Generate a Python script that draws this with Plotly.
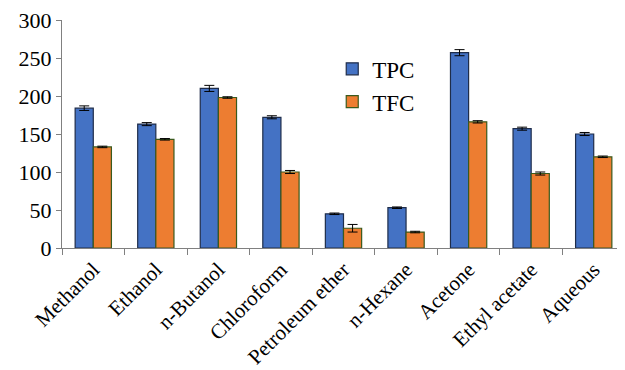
import plotly.graph_objects as go

categories = ["Methanol", "Ethanol", "n-Butanol", "Chloroform", "Petroleum ether",
              "n-Hexane", "Acetone", "Ethyl acetate", "Aqueous"]
tpc = [184, 163, 210, 172, 45, 53, 257, 157, 150]
tpc_err = [3, 2, 4, 2, 1, 1, 4, 2, 2]
tfc = [133, 143, 198, 100, 26, 21, 166, 98, 120]
tfc_err = [1, 1, 1, 2, 5, 1, 1.5, 2, 1]
y_ticks = [0, 50, 100, 150, 200, 250, 300]

font_family = "'Liberation Serif', 'Times New Roman', Times, serif"

fig = go.Figure()
fig.add_trace(go.Bar(
    x=categories, y=tpc, name="TPC",
    marker=dict(color="#4472C4", line=dict(color="#1F2D4A", width=1.2)),
    error_y=dict(type="data", array=tpc_err, color="#000000", thickness=1, width=5),
))
fig.add_trace(go.Bar(
    x=categories, y=tfc, name="TFC",
    marker=dict(color="#ED7D31", line=dict(color="#3A5A1E", width=1.2)),
    error_y=dict(type="data", array=tfc_err, color="#000000", thickness=1, width=5),
))

fig.update_layout(
    width=617, height=362,
    margin=dict(l=54, r=0, t=12, b=122),
    paper_bgcolor="white", plot_bgcolor="white",
    barmode="group", bargap=0.42, bargroupgap=0,
    font=dict(family=font_family, size=22, color="#000000"),
    showlegend=True,
    legend=dict(x=0.48, y=0.88, xanchor="left", yanchor="top",
                bgcolor="rgba(0,0,0,0)", font=dict(size=23, family=font_family),
                itemwidth=30),
    xaxis=dict(
        showline=True, linecolor="#808080", linewidth=1,
        ticks="outside", tickson="boundaries", ticklen=6, tickcolor="#808080",
        tickangle=-45, tickfont=dict(size=21, family=font_family),
        showgrid=False, automargin=False,
    ),
    yaxis=dict(
        range=[0, 300], tickvals=y_ticks,
        showline=True, linecolor="#808080", linewidth=1,
        ticks="outside", ticklen=5, tickcolor="#808080",
        tickfont=dict(size=22, family=font_family),
        showgrid=False, zeroline=False, automargin=False,
        ticklabeloverflow="allow",
    ),
)

fig.write_html("out.html")
